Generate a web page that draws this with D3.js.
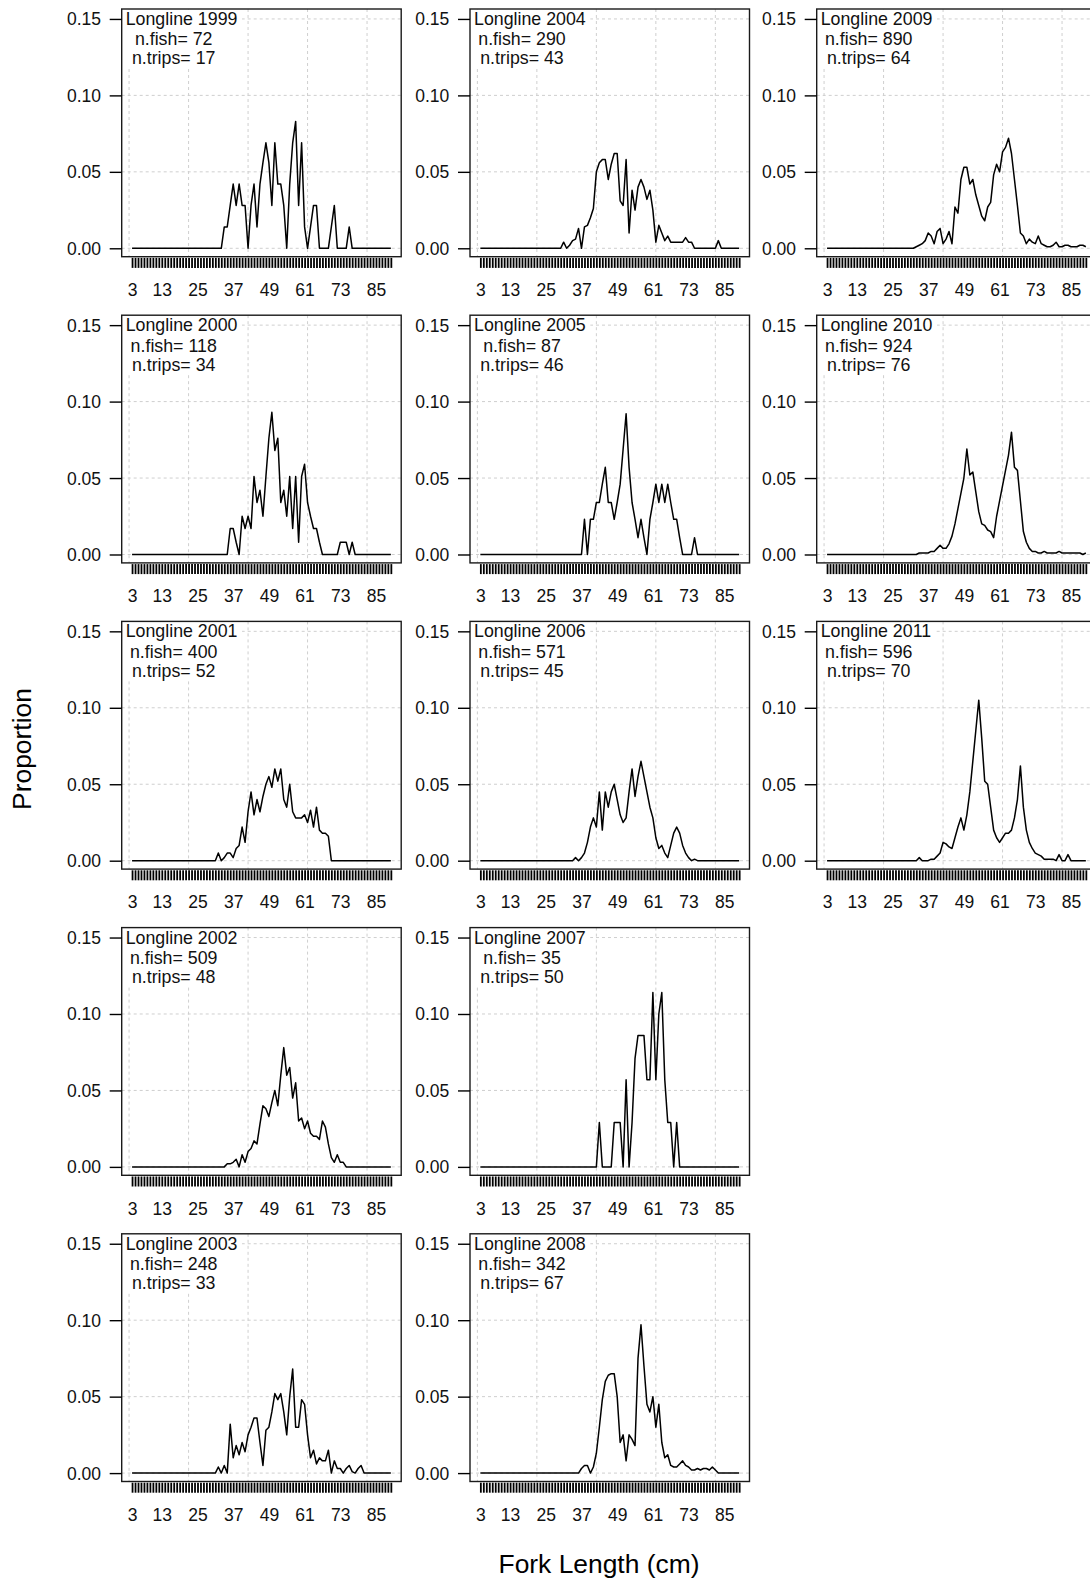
<!DOCTYPE html>
<html><head><meta charset="utf-8">
<script src="https://cdn.jsdelivr.net/npm/d3@7"></script>
<style>
html,body{margin:0;padding:0;background:#fff;}
svg{display:block;font-family:"Liberation Sans",Arial,Helvetica,sans-serif;}
</style>
</head><body>
<svg id="chart" width="1090" height="1581"></svg>
<script>
// ---------------- data ----------------
const years   = [1999, 2000, 2001, 2002, 2003, 2004, 2005, 2006, 2007, 2008, 2009, 2010, 2011];
const nFish   = [72, 118, 400, 509, 248, 290, 87, 571, 35, 342, 890, 924, 596];
const nTrips  = [17, 34, 52, 48, 33, 43, 46, 45, 50, 67, 64, 76, 70];
const lengthMin = 3, lengthMax = 90;           // fork-length classes (cm)
const xTickLabels = [3, 13, 25, 37, 49, 61, 73, 85];
const yTickValues = [0, 0.05, 0.10, 0.15];
const xGridLengths = [2, 22, 42, 62, 82];
// first fork length of each listed series (proportion is 0 outside the listed values)
const startLength = [33, 35, 31, 34, 31, 30, 37, 34, 42, 36, 33, 33, 33];

const p1999 = [0,0.014,0.014,0.028,0.042,0.028,0.042,0.028,0.028,0,0.028,0.042,0.014,0.042,0.056,0.069,0.056,0.028,0.069,0.042,0.042,0.028,0,0.042,0.069,0.083,0.028,0.069,0.014,0,0.014,0.028,0.028,0,0,0,0,0.014,0.028,0,0,0,0,0.014,0];
const p2000 = [0,0.017,0.017,0.008,0,0.025,0.017,0.025,0.017,0.051,0.034,0.042,0.025,0.051,0.076,0.093,0.068,0.076,0.034,0.042,0.025,0.051,0.017,0.051,0.008,0.051,0.059,0.034,0.025,0.017,0.017,0.008,0,0,0,0,0,0,0.008,0.008,0.008,0,0.008,0];
const p2001 = [0,0.005,0,0.002,0.005,0.005,0.002,0.008,0.01,0.022,0.012,0.032,0.045,0.03,0.04,0.032,0.042,0.05,0.055,0.048,0.06,0.052,0.06,0.04,0.035,0.05,0.032,0.028,0.028,0.028,0.03,0.025,0.033,0.022,0.035,0.02,0.018,0.018,0.016,0,0];
const p2002 = [0,0.002,0.002,0.003,0.005,0,0.008,0.003,0.01,0.012,0.017,0.015,0.028,0.04,0.038,0.033,0.042,0.05,0.04,0.06,0.078,0.06,0.065,0.045,0.055,0.03,0.032,0.025,0.03,0.022,0.02,0.02,0.018,0.03,0.026,0.015,0.006,0.003,0.008,0.003,0.003,0,0];
const p2003 = [0,0.004,0,0.005,0,0.032,0.01,0.018,0.012,0.02,0.014,0.025,0.03,0.036,0.036,0.02,0.005,0.028,0.03,0.04,0.052,0.048,0.052,0.04,0.025,0.05,0.068,0.03,0.03,0.048,0.045,0.025,0.01,0.015,0.006,0.01,0.008,0.008,0.015,0,0.008,0.003,0.003,0,0.003,0.005,0.001,0,0.003,0.005,0,0];
const p2004 = [0,0.004,0,0.002,0.005,0.006,0.013,0,0.014,0.015,0.02,0.026,0.05,0.056,0.058,0.058,0.045,0.055,0.062,0.062,0.031,0.028,0.058,0.01,0.038,0.025,0.04,0.045,0.04,0.032,0.038,0.025,0.004,0.015,0.01,0.005,0.008,0.004,0.004,0.004,0.004,0.004,0.007,0.004,0.004,0,0,0,0,0,0,0,0,0.005,0];
const p2005 = [0,0.023,0,0.023,0.023,0.034,0.034,0.046,0.057,0.034,0.034,0.023,0.034,0.046,0.069,0.092,0.057,0.034,0.023,0.011,0.023,0.011,0,0.023,0.034,0.046,0.034,0.046,0.034,0.046,0.034,0.023,0.023,0.011,0,0,0,0,0.011,0];
const p2006 = [0,0.002,0,0.002,0.005,0.012,0.022,0.028,0.022,0.045,0.02,0.045,0.035,0.045,0.05,0.04,0.03,0.025,0.028,0.045,0.06,0.042,0.055,0.065,0.055,0.045,0.035,0.028,0.015,0.008,0.01,0.005,0.002,0.01,0.018,0.022,0.018,0.01,0.005,0.002,0,0.001,0];
const p2007 = [0,0.029,0,0,0,0,0.029,0.029,0.029,0,0.057,0,0.029,0.071,0.086,0.086,0.086,0.057,0.057,0.114,0.057,0.1,0.114,0.057,0.029,0.029,0,0.029,0];
const p2008 = [0,0.003,0.005,0.005,0,0.004,0.013,0.03,0.048,0.06,0.064,0.065,0.065,0.05,0.02,0.025,0.008,0.025,0.022,0.018,0.075,0.097,0.07,0.045,0.04,0.05,0.03,0.045,0.02,0.01,0.012,0.005,0.004,0.004,0.006,0.008,0.005,0.004,0.002,0.002,0.003,0.002,0.003,0.003,0.002,0.004,0.002,0];
const p2009 = [0.001,0.002,0.003,0.005,0.01,0.008,0.003,0.011,0.013,0.003,0.006,0.011,0.003,0.027,0.023,0.045,0.053,0.053,0.042,0.045,0.035,0.028,0.021,0.018,0.027,0.03,0.048,0.055,0.05,0.063,0.066,0.072,0.062,0.045,0.028,0.01,0.008,0.003,0.006,0.004,0.003,0.008,0.003,0.002,0.001,0.001,0.002,0.004,0.001,0.001,0.002,0.002,0.001,0.001,0.001,0.002,0.002,0.001];
const p2010 = [0,0.001,0.001,0.001,0.001,0.002,0.002,0.004,0.006,0.004,0.004,0.007,0.012,0.02,0.03,0.04,0.05,0.069,0.052,0.054,0.041,0.028,0.02,0.019,0.016,0.015,0.011,0.025,0.035,0.045,0.055,0.065,0.08,0.057,0.055,0.035,0.015,0.008,0.004,0.002,0.002,0.001,0.001,0.002,0.001,0.001,0.001,0.001,0.002,0.001,0.001,0.001,0.001,0.001,0.001,0.001,0,0.001];
const p2011 = [0,0.002,0,0,0,0.001,0.001,0.003,0.005,0.012,0.011,0.009,0.008,0.015,0.022,0.028,0.02,0.03,0.045,0.065,0.085,0.105,0.08,0.052,0.05,0.035,0.02,0.015,0.012,0.015,0.018,0.018,0.02,0.028,0.04,0.062,0.035,0.02,0.012,0.008,0.005,0.004,0.003,0.001,0.001,0.001,0.001,0,0.004,0,0,0.004,0,0,0,0,0,0];
const seriesValues = [p1999, p2000, p2001, p2002, p2003, p2004, p2005, p2006, p2007, p2008, p2009, p2010, p2011];

// ---------------- layout ----------------
const colLeft = [121.7, 470, 816.7];
const rowTop0 = 9, rowPitch = 306.2;
const boxW = 279.5, boxH = 247.7;
const nRows = 5;
const fontTick = 17.5, fontPanel = 17.8, fontTitle = 26.4;

const svg = d3.select("#chart");
svg.append("rect").attr("width", 1090).attr("height", 1581).attr("fill", "#fff");

years.forEach((year, k) => {
  const col = Math.floor(k / nRows), row = k % nRows;
  const left = colLeft[col], top = rowTop0 + row * rowPitch;
  const bottom = top + boxH;

  const x = d3.scaleLinear().domain([-0.48, 93.48]).range([left, left + boxW]);
  const y = d3.scaleLinear().domain([-0.0055, 0.1565]).range([bottom, top]);

  const lengths = d3.range(lengthMin, lengthMax + 1);
  const vals = seriesValues[k], s0 = startLength[k];
  const data = lengths.map(L => {
    const j = L - s0;
    return {L, v: (j >= 0 && j < vals.length) ? vals[j] : 0};
  });

  const g = svg.append("g");

  // grid
  const grid = g.append("g").attr("stroke", "#cfcfcf").attr("stroke-width", 1)
    .attr("stroke-dasharray", "3,3").attr("fill", "none");
  xGridLengths.forEach(L => grid.append("line")
    .attr("x1", x(L)).attr("x2", x(L)).attr("y1", top).attr("y2", bottom));
  yTickValues.forEach(v => grid.append("line")
    .attr("x1", left).attr("x2", left + boxW).attr("y1", y(v)).attr("y2", y(v)));

  // data line
  g.append("path").datum(data)
    .attr("fill", "none").attr("stroke", "#000").attr("stroke-width", 1.5)
    .attr("stroke-linejoin", "round")
    .attr("d", d3.line().x(d => x(d.L)).y(d => y(d.v)));

  // panel legend text with white background
  const leg = g.append("g").attr("font-size", fontPanel).attr("fill", "#111");
  const bg = leg.append("rect").attr("fill", "#fff");
  leg.append("text").attr("x", left + 4).attr("y", top + 10)
    .attr("dominant-baseline", "central").text(`Longline ${year}`);
  leg.append("text").attr("x", left + 52).attr("y", top + 30.3)
    .attr("text-anchor", "middle").attr("dominant-baseline", "central").text(`n.fish= ${nFish[k]}`);
  leg.append("text").attr("x", left + 52).attr("y", top + 49.3)
    .attr("text-anchor", "middle").attr("dominant-baseline", "central").text(`n.trips= ${nTrips[k]}`);
  let maxR = left;
  leg.selectAll("text").each(function(){ const b = this.getBBox(); maxR = Math.max(maxR, b.x + b.width); });
  bg.attr("x", left + 0.5).attr("y", top + 0.5).attr("width", maxR + 4 - left).attr("height", 58);

  // box
  g.append("rect").attr("x", left).attr("y", top).attr("width", boxW).attr("height", boxH)
    .attr("fill", "none").attr("stroke", "#1a1a1a").attr("stroke-width", 1.4);

  // y axis
  const ya = g.append("g").attr("transform", `translate(${left},0)`)
    .call(d3.axisLeft(y).tickValues(yTickValues).tickFormat(d3.format(".2f")).tickSize(12).tickPadding(8.7));
  ya.select(".domain").remove();
  ya.attr("font-size", fontTick).attr("font-family", null);
  ya.selectAll("line").attr("stroke", "#000").attr("stroke-width", 1.4);
  ya.selectAll("text").attr("fill", "#111").attr("dy", null).attr("dominant-baseline", "central");

  // x axis
  const xa = g.append("g").attr("transform", `translate(0,${bottom + 1.2})`)
    .call(d3.axisBottom(x).tickValues(lengths)
      .tickFormat(d => xTickLabels.includes(d) ? String(d) : "").tickSize(10).tickPadding(22));
  xa.select(".domain").remove();
  xa.attr("font-size", fontTick).attr("font-family", null);
  xa.selectAll("line").attr("stroke", "#000").attr("stroke-width", 1.8);
  xa.selectAll("text").attr("fill", "#111").attr("dy", null).attr("dominant-baseline", "central");
});

// axis titles
svg.append("text").attr("transform", "translate(21.7,749) rotate(-90)")
  .attr("text-anchor", "middle").attr("dominant-baseline", "central")
  .attr("font-size", fontTitle).attr("fill", "#000").text("Proportion");
svg.append("text").attr("x", 599).attr("y", 1564)
  .attr("text-anchor", "middle").attr("dominant-baseline", "central")
  .attr("font-size", fontTitle).attr("fill", "#000").text("Fork Length (cm)");
</script>
</body></html>
